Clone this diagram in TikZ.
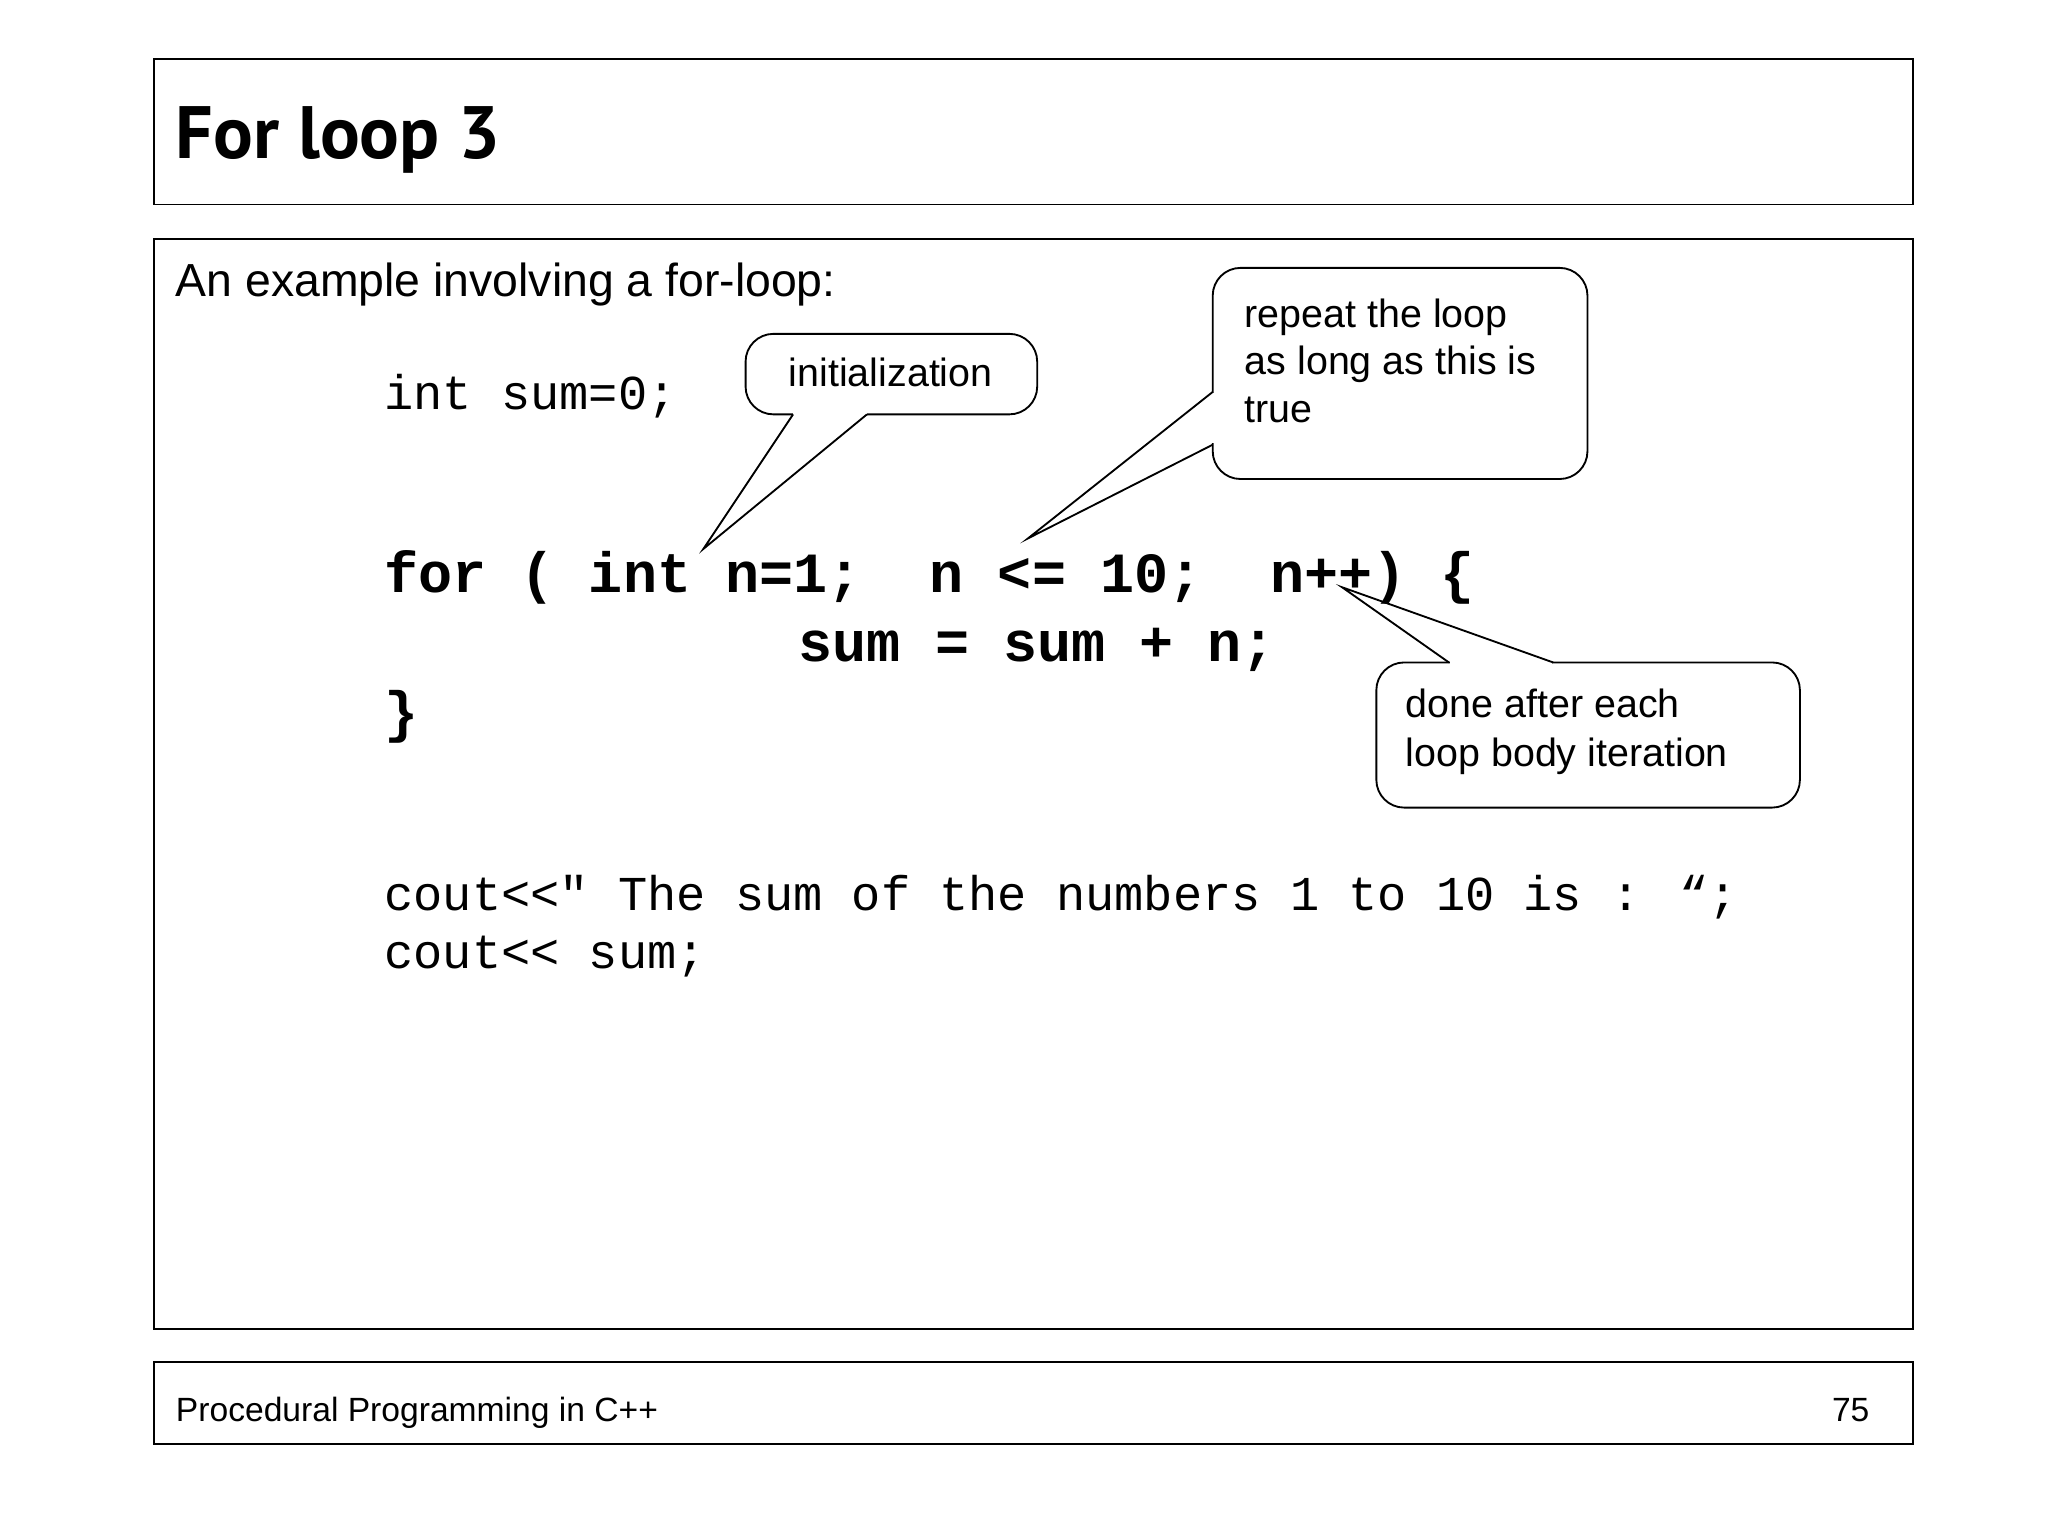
\documentclass[tikz,border=0pt]{standalone}
\usepackage{fontspec}
\setmainfont{Liberation Sans}
\newfontfamily\codefont{Liberation Mono}
\newfontfamily\titlefont{PT Sans}
\begin{document}
\begin{tikzpicture}[x=0.02cm,y=-0.02cm,
  frame/.style={draw,line width=0.8pt},
  callout/.style={draw,fill=white,rounded corners=12pt,line width=0.8pt},
  body/.style={anchor=base west,inner sep=0,font=\fontsize{20}{24}\selectfont},
  code/.style={anchor=base west,inner sep=0,font=\codefont\fontsize{21}{25}\selectfont},
  bcode/.style={anchor=base west,inner sep=0,font=\codefont\bfseries\fontsize{24.5}{29}\selectfont},
  ctext/.style={anchor=base west,inner sep=0,font=\fontsize{17}{20}\selectfont}]
\useasboundingbox[fill=white] (0,0) rectangle (1552,1164);
\draw[frame] (117,45) rectangle (1450,155);
\draw[frame] (117,181) rectangle (1450,1007);
\draw[frame] (117,1032) rectangle (1450,1094);
\node[anchor=base west,inner sep=0,font=\titlefont\bfseries\fontsize{32}{38}\selectfont] (title) at (133,120) {For loop 3};
\node[body] (intro) at (133,225) {An example involving a for-loop:};
\node[anchor=base west,inner sep=0,font=\fontsize{14.5}{17}\selectfont] (foot) at (133,1077) {Procedural Programming in C++};
\node[anchor=base east,inner sep=0,font=\fontsize{14.5}{17}\selectfont] (page) at (1417,1077) {75};
% code
\node[code] (c1) at (291,310) {int sum=0;};
\node[bcode] (c2) at (291,449) {for ( int n=1;\ \ n <= 10;\ \ n++) \{};
\node[bcode] (c3) at (605,501) {sum = sum + n;};
\node[bcode] (c4) at (291,554) {\}};
\node[code] (c5) at (291,690) {cout<<" The sum of the numbers 1 to 10 is : “;};
\node[code] (c6) at (291,734) {cout<< sum;};
% tip coordinates
\coordinate (tipA) at (533,416);
\coordinate (tipB) at (779,408);
\coordinate (tipC) at (1017,445);
% callout: initialization
\draw[callout] (565,253) rectangle (786,314);
\fill[white] (601,313) rectangle (657,316);
\draw[line width=0.8pt] (601,314) -- (tipA) -- (657,314);
\node[ctext,anchor=base] (ta) at (675,293) {initialization};
% callout: repeat
\draw[callout] (919,203) rectangle (1203,363);
\fill[white] (917,298) rectangle (921,336);
\draw[line width=0.8pt] (919,297) -- (tipB) -- (919,337);
\node[ctext] (tb1) at (943,248) {repeat the loop};
\node[ctext] (tb2) at (943,284) {as long as this is};
\node[ctext] (tb3) at (943,320) {true};
% callout: done
\draw[callout] (1043,502) rectangle (1364,612);
\fill[white] (1099,500) rectangle (1176,504);
\draw[line width=0.8pt] (1098,502) -- (tipC) -- (1177,502);
\node[ctext] (tc1) at (1065,544) {done after each};
\node[ctext] (tc2) at (1065,581) {loop body iteration};
\end{tikzpicture}
\end{document}
